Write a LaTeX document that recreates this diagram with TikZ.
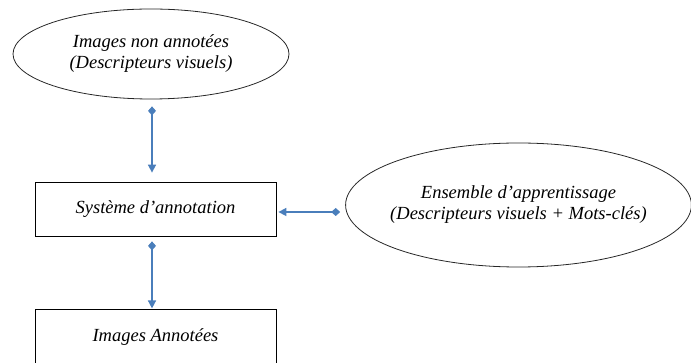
\documentclass[tikz,border=0pt]{standalone}
\usepackage{fontspec}
\setmainfont{Liberation Serif}
\usetikzlibrary{positioning,shapes.geometric,arrows.meta}
\definecolor{fleche}{RGB}{74,126,187}
\tikzset{
  bulle/.style={ellipse, draw=black!85, line width=0.8pt, inner sep=0pt, align=center,
    font=\itshape\fontsize{18.5}{21}\selectfont},
  boite/.style={rectangle, draw, line width=0.8pt, minimum width=241pt, minimum height=54pt,
    font=\itshape\fontsize{18.5}{21}\selectfont},
  lien/.style={draw=fleche, line width=1.6pt,
    {Diamond[length=9pt,width=8pt]}-{Triangle[length=8pt,width=8pt]}}
}

\begin{document}
\begin{tikzpicture}[x=1pt,y=-1pt]
\useasboundingbox (0,0) rectangle (691,363);

% les noeuds
\node[bulle, minimum width=276pt, minimum height=90pt] (nonannot) at (151,54)
  {Images non annotées\\(Descripteurs visuels)};
\node[boite] (systeme) at (155.5,209) {Système d’annotation};
\node[boite, below=73pt of systeme] (annot) {Images Annotées};
\node[bulle, inner xsep=-6pt, minimum width=345pt, minimum height=124pt] (ensemble) at (518.5,205)
  {Ensemble d’apprentissage\\(Descripteurs visuels + Mots-clés)};

% les liens
\draw[lien, shorten <=7pt, shorten >=9pt] ([xshift=1pt]nonannot.south)
  -- ([xshift=1pt]nonannot.south |- systeme.north);
\draw[lien, shorten <=5pt, shorten >=1pt] ([xshift=-3.5pt]systeme.south)
  -- ([xshift=-3.5pt]annot.north);
\draw[lien, shorten <=5pt, shorten >=2pt] ([yshift=-3pt]systeme.east -| ensemble.west)
  -- ([yshift=-3pt]systeme.east);
\end{tikzpicture}
\end{document}
